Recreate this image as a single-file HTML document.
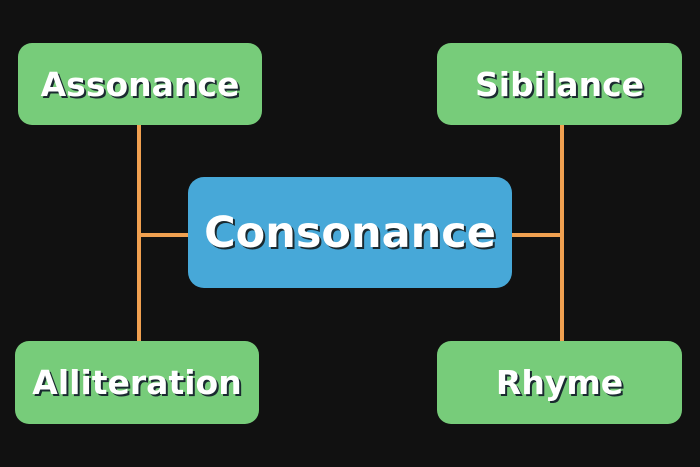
<!DOCTYPE html>
<html><head><meta charset="utf-8"><style>
html,body{margin:0;padding:0;background:#111111;width:700px;height:467px;overflow:hidden}
.b{position:absolute;display:flex;align-items:center;justify-content:center;color:#fff;font-family:"DejaVu Sans","Liberation Sans",sans-serif;font-weight:bold;text-shadow:2px 2px 0 #1a2a30}
.g{background:#77cc7a;border-radius:14px;font-size:33px}
.l{position:absolute;background:#f0a050}
</style></head><body>
<div class="l" style="left:137px;top:125px;width:4px;height:217px"></div>
<div class="l" style="left:139px;top:233px;width:50px;height:4px"></div>
<div class="l" style="left:560px;top:125px;width:4px;height:217px"></div>
<div class="l" style="left:510px;top:233px;width:52px;height:4px"></div>
<div class="b g" style="left:18px;top:43px;width:244px;height:82px">Assonance</div>
<div class="b g" style="left:437px;top:43px;width:245px;height:82px">Sibilance</div>
<div class="b g" style="left:15px;top:341px;width:244px;height:83px">Alliteration</div>
<div class="b g" style="left:437px;top:341px;width:245px;height:83px">Rhyme</div>
<div class="b" style="left:188px;top:177px;width:324px;height:111px;background:#47a8d8;border-radius:16px;font-size:43px">Consonance</div>
</body></html>
